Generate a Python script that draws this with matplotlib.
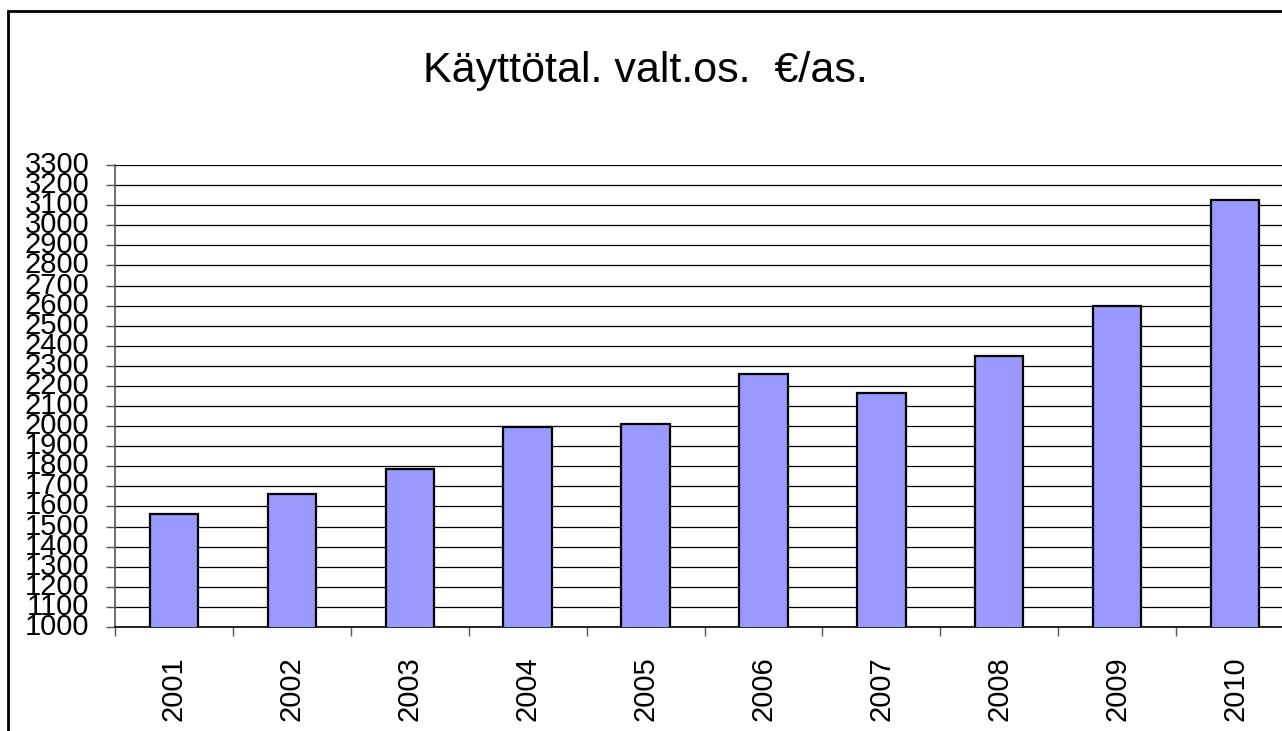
import matplotlib.pyplot as plt
import numpy as np
from matplotlib.patches import Rectangle

years = ["2001", "2002", "2003", "2004", "2005", "2006", "2007", "2008", "2009", "2010"]
values = [1563, 1662, 1788, 1994, 2011, 2258, 2163, 2348, 2597, 3126]
title = "Käyttötal. valt.os.  €/as."

plt.rcParams['font.family'] = ['Liberation Sans', 'DejaVu Sans']

fig = plt.figure(figsize=(12.82, 7.31), dpi=100)
ax = fig.add_axes([115 / 1282, 1 - 627 / 731, 1179 / 1282, 462 / 731])

x = np.arange(len(years))
ax.bar(x, values, width=0.41, bottom=0, color='#9999FF', edgecolor='black',
       linewidth=1.6, zorder=3)

ax.set_ylim(1000, 3300)
ax.set_xlim(-0.5, len(years) - 0.5)
ax.set_yticks(np.arange(1000, 3301, 100))
ax.yaxis.grid(True, color='black', linewidth=0.9, zorder=0)
ax.set_axisbelow(True)

ax.set_xticks(x)
ax.set_xticklabels(years, rotation=90, fontsize=21)
ax.tick_params(axis='x', which='major', length=0, pad=21)
ax.set_xticks(np.arange(-0.5, len(years), 1), minor=True)
ax.tick_params(axis='x', which='minor', length=6.5, width=1, color='#555555')
ax.tick_params(axis='y', labelsize=21, length=6.5, width=1, color='#555555', pad=12)
for lab in ax.get_yticklabels():
    lab.set_verticalalignment('center')

for s in ['top', 'right']:
    ax.spines[s].set_visible(False)
ax.spines['left'].set_color('#555555')
ax.spines['left'].set_linewidth(1.2)
ax.spines['bottom'].set_color('black')
ax.spines['bottom'].set_linewidth(1.2)

fig.text(645 / 1282, 1 - 71 / 731, title, ha='center', va='center', fontsize=31)

# outer chart frame (only left and top edges visible)
fig.patches.append(Rectangle((8 / 1282, -0.1), 1.2, 1.1 - 11 / 731,
                             transform=fig.transFigure, fill=False,
                             edgecolor='black', linewidth=2))

fig.savefig('out.png', dpi=100)
